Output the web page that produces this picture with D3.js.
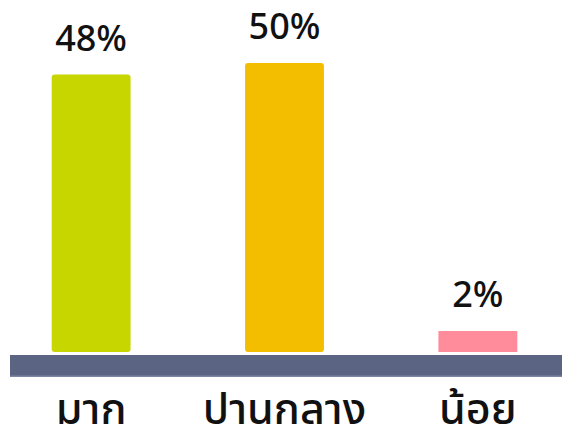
<!DOCTYPE html>
<html>
<head>
<meta charset="utf-8">
<script src="https://cdn.jsdelivr.net/npm/d3@7"></script>
<style>
  body { margin: 0; background: #fff; overflow: hidden; }
  svg text { font-family: "Noto Sans Thai", "Noto Sans", "DejaVu Sans", sans-serif; fill: #111; }
</style>
</head>
<body>
<div id="chart"></div>
<script>
var chart_width = 562;
var chart_height = 430;

// data
var categories = ['มาก', 'ปานกลาง', 'น้อย'];
var values = [48, 50, 2];
var value_labels = ['48%', '50%', '2%'];
var colors = ['#C8D600', '#F3BE00', '#FF8C9B'];

var svg = d3.select('#chart')
            .append('svg')
            .attr('width', chart_width)
            .attr('height', chart_height)
            .style('display', 'block');

var x_scale = d3.scaleBand()
                .domain(categories)
                .range([-45, 614])
                .paddingInner(0.592)
                .paddingOuter(0.5);

var y_scale = d3.scaleLinear()
                .domain([0, 50])
                .range([352, 63]);

// tiny values still get a visible bar
var min_bar = 21;

// baseline band
svg.append('rect')
    .attr('x', 10)
    .attr('y', 355)
    .attr('width', chart_width - 10)
    .attr('height', 22)
    .attr('fill', '#5B6483');
svg.append('rect')
    .attr('x', 10)
    .attr('y', 375.5)
    .attr('width', chart_width - 10)
    .attr('height', 1.5)
    .attr('fill', '#7E86A3');

var bar_top = (d) => {
    return Math.min(y_scale(d), y_scale(0) - min_bar);
};

// bars
svg.selectAll('rect.bar')
    .data(values)
    .enter()
    .append('rect')
    .attr('class', 'bar')
    .attr('x', (d, i) => x_scale(categories[i]))
    .attr('y', (d) => bar_top(d))
    .attr('width', x_scale.bandwidth())
    .attr('height', (d) => y_scale(0) - bar_top(d))
    .attr('rx', (d) => d > 10 ? 3 : 0)
    .attr('fill', (d, i) => colors[i]);

// value labels
svg.selectAll('text.val')
    .data(values)
    .enter()
    .append('text')
    .attr('class', 'val')
    .text((d, i) => value_labels[i])
    .attr('x', (d, i) => x_scale(categories[i]) + x_scale.bandwidth() / 2)
    .attr('y', (d) => bar_top(d) - 24)
    .attr('text-anchor', 'middle')
    .attr('font-size', 36)
    .attr('font-weight', 500);

// category labels
svg.selectAll('text.cat')
    .data(categories)
    .enter()
    .append('text')
    .attr('class', 'cat')
    .text((d) => d)
    .attr('x', (d) => x_scale(d) + x_scale.bandwidth() / 2)
    .attr('y', 424)
    .attr('text-anchor', 'middle')
    .attr('font-size', 43)
    .attr('font-weight', 500);
</script>
</body>
</html>
